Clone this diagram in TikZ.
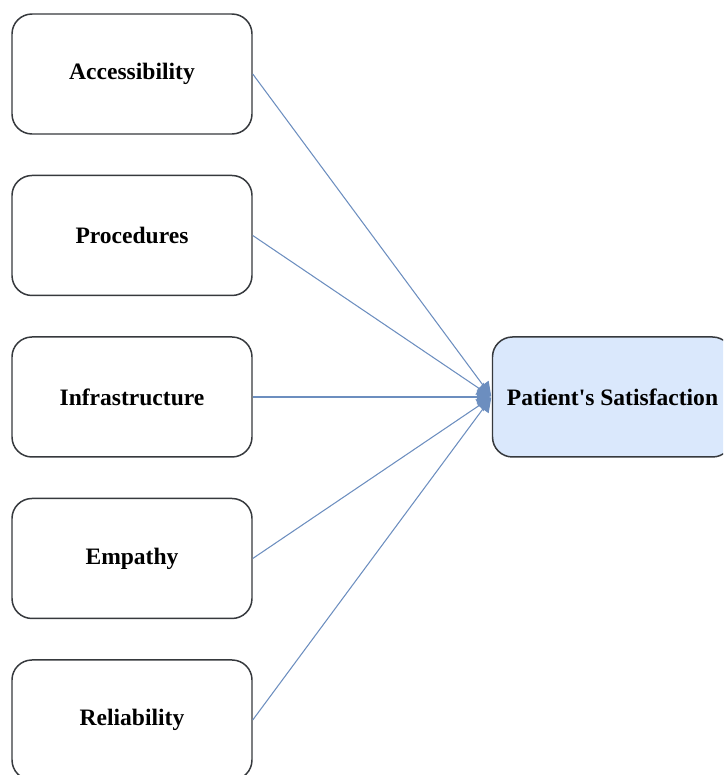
\documentclass[tikz,border=0pt]{standalone}
\usepackage{fontspec}
\setmainfont{Liberation Serif}
\usetikzlibrary{positioning,arrows.meta}

\definecolor{linkblue}{HTML}{6C8EBF}
\definecolor{boxfill}{HTML}{DAE8FC}
\definecolor{boxline}{HTML}{36393D}

\tikzstyle{factor} = [
rectangle,
rounded corners=0.4cm,
minimum width=4.8cm,
minimum height=2.4cm,
text centered,
line width=0.85pt,
draw=boxline,
fill=white,
font=\fontsize{13.4}{16}\selectfont\bfseries
]
\tikzstyle{outcome} = [
factor,
fill=boxfill
]
\tikzstyle{arrow} = [
line width=0.6pt,
draw=linkblue,
-{Triangle[length=8pt,width=8pt]},
shorten >=0.5pt
]

\begin{document}
\begin{tikzpicture}[
node distance=0.80cm
]
\clip (-2.64,1.48) rectangle (11.82,-14.02);
\useasboundingbox (-2.64,1.48) rectangle (11.82,-14.02);

% Nodes
\node (access) [factor] {Accessibility};

\node (proced) [factor, below=of access] {Procedures};

\node (infra) [factor, below=of proced] {Infrastructure};

\node (empathy) [factor, below=of infra] {Empathy};

\node (reliab) [factor, below=of empathy] {Reliability};

\node (satisf) [outcome, right=4.78cm of infra] {Patient\textquotesingle s Satisfaction};

% Arrows
\draw [arrow] (access.east) -- (satisf.west);
\draw [arrow] (proced.east) -- (satisf.west);
\draw [arrow] (infra.east) -- (satisf.west);
\draw [arrow] (empathy.east) -- (satisf.west);
\draw [arrow] (reliab.east) -- (satisf.west);

\end{tikzpicture}
\end{document}
